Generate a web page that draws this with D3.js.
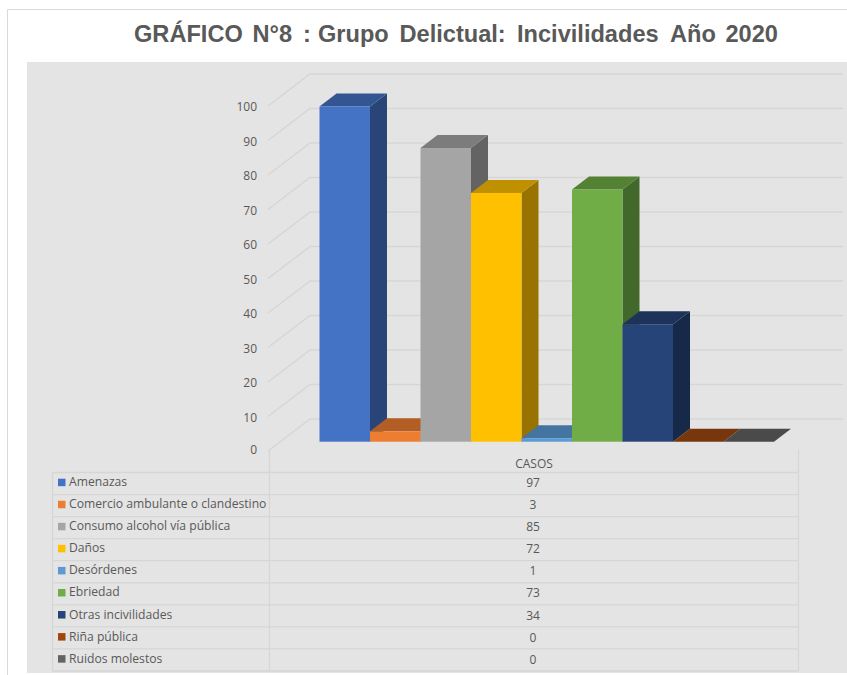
<!DOCTYPE html>
<html><head><meta charset="utf-8">
<script src="https://cdn.jsdelivr.net/npm/d3@7"></script>
<style>html,body{margin:0;padding:0;background:#fff;overflow:hidden}svg{display:block}</style>
</head><body><svg id="c" width="847" height="675"></svg>
<script>
const categories = ["Amenazas","Comercio ambulante o clandestino","Consumo alcohol vía pública","Daños","Desórdenes","Ebriedad","Otras incivilidades","Riña pública","Ruidos molestos"];
const values = [97,3,85,72,1,73,34,0,0];
const colors = ["#4472c4","#ed7d31","#a5a5a5","#ffc000","#5b9bd5","#70ad47","#264478","#9e480e","#636363"];
const ticks = [0,10,20,30,40,50,60,70,80,90,100];
const titleWords = ["GRÁFICO","N°8",":","Grupo","Delictual:","Incivilidades","Año","2020"];
const titleStarts = [134,252.5,303,318,399.5,517,670,725.5];
const seriesName = "CASOS";

const svg = d3.select("#c");
const textCol = "#595959", gridCol = "#d6d6d6", font = "'Open Sans','Noto Sans',sans-serif";

// frame + panel
svg.append("path").attr("d","M7.5,675V9.5H847").attr("fill","none").attr("stroke","#d9d9d9").attr("stroke-width",1);
svg.append("rect").attr("x",27).attr("y",62).attr("width",820).attr("height",611).attr("fill","#e4e4e4");
svg.append("text").attr("y",42)
  .attr("font-family","'Liberation Sans',Arial,sans-serif").attr("font-weight","bold").attr("font-size",23.6)
  .attr("fill",textCol)
  .selectAll("tspan").data(titleWords).join("tspan")
  .attr("x",(d,i)=>titleStarts[i]).text(d=>d);

// scales
const y = d3.scaleLinear().domain([0,100]).range([451,106]);     // front wall edge
const yBar = d3.scaleLinear().domain([0,100]).range([441.7,96.2]); // front face of bars
const x = d3.scaleBand().domain(categories).range([319.5,774]).padding(0);
const wall = {dx:42, dy:-32, x0:268, right:843};
const bar = {dx:17, dy:-13};

// gridlines
const g = svg.append("g").attr("fill","none").attr("stroke",gridCol).attr("stroke-width",1.5);
ticks.forEach(t=>{
  g.append("path").attr("d",`M${wall.x0},${y(t)}L${wall.x0+wall.dx},${y(t)+wall.dy}H${wall.right}`);
});

// axis labels
svg.append("g").selectAll("text").data(ticks).join("text")
  .attr("x",257).attr("y",d=>y(d)+(d===0?3:5)).attr("text-anchor","end")
  .attr("font-family",font).attr("font-size",12).attr("fill",textCol).text(d=>d);

// bars
const shade=(c,k)=>{const r=d3.rgb(c);return d3.rgb(r.r*k,r.g*k,r.b*k).formatHex();};
const bars = svg.append("g");
categories.forEach((c,i)=>{
  const x0=x(c), x1=x0+x.bandwidth(), yt=yBar(values[i]), yb=yBar(0), col=colors[i];
  const G=bars.append("g");
  G.append("path").attr("fill",shade(col,0.6))
    .attr("d",`M${x1},${yt}L${x1+bar.dx},${yt+bar.dy}V${yb+bar.dy}L${x1},${yb}Z`);
  G.append("path").attr("fill",shade(col,0.75))
    .attr("d",`M${x0},${yt}L${x0+bar.dx},${yt+bar.dy}H${x1+bar.dx}L${x1},${yt}Z`);
  if(values[i]>0) G.append("rect").attr("x",x0).attr("y",yt).attr("width",x.bandwidth()).attr("height",yb-yt).attr("fill",col);
});

// data table
const rowY = d3.scaleBand().domain(categories).range([472.5,671]);
const tx = {left:52.5, col:269.5, right:798.5, mid:533};
const T = svg.append("g").attr("fill","none").attr("stroke",gridCol).attr("stroke-width",1.3);
T.append("path").attr("d",`M${tx.col},451V671.5M${tx.right},450V671.5M${tx.left},472.5V671.5`);
T.append("path").attr("d",`M${tx.left},472.5H${tx.right}`);
categories.forEach(c=>T.append("path").attr("d",`M${tx.left},${rowY(c)+rowY.bandwidth()}H${tx.right}`));

svg.append("text").attr("x",tx.mid+1).attr("y",468).attr("text-anchor","middle")
  .attr("font-family",font).attr("font-size",12).attr("fill",textCol).text(seriesName);
const rows = svg.append("g").selectAll("g").data(categories).join("g")
  .attr("transform",d=>`translate(0,${rowY(d)+0.7})`);
rows.append("rect").attr("x",58).attr("y",5.5).attr("width",7.5).attr("height",7.5).attr("fill",(d,i)=>colors[i]);
rows.append("text").attr("x",69).attr("y",13).attr("font-family",font).attr("font-size",12.15).attr("fill",textCol).text(d=>d);
rows.append("text").attr("x",tx.mid).attr("y",14).attr("text-anchor","middle").attr("font-family",font).attr("font-size",12)
  .attr("fill",textCol).text((d,i)=>values[i]);
</script></body></html>
